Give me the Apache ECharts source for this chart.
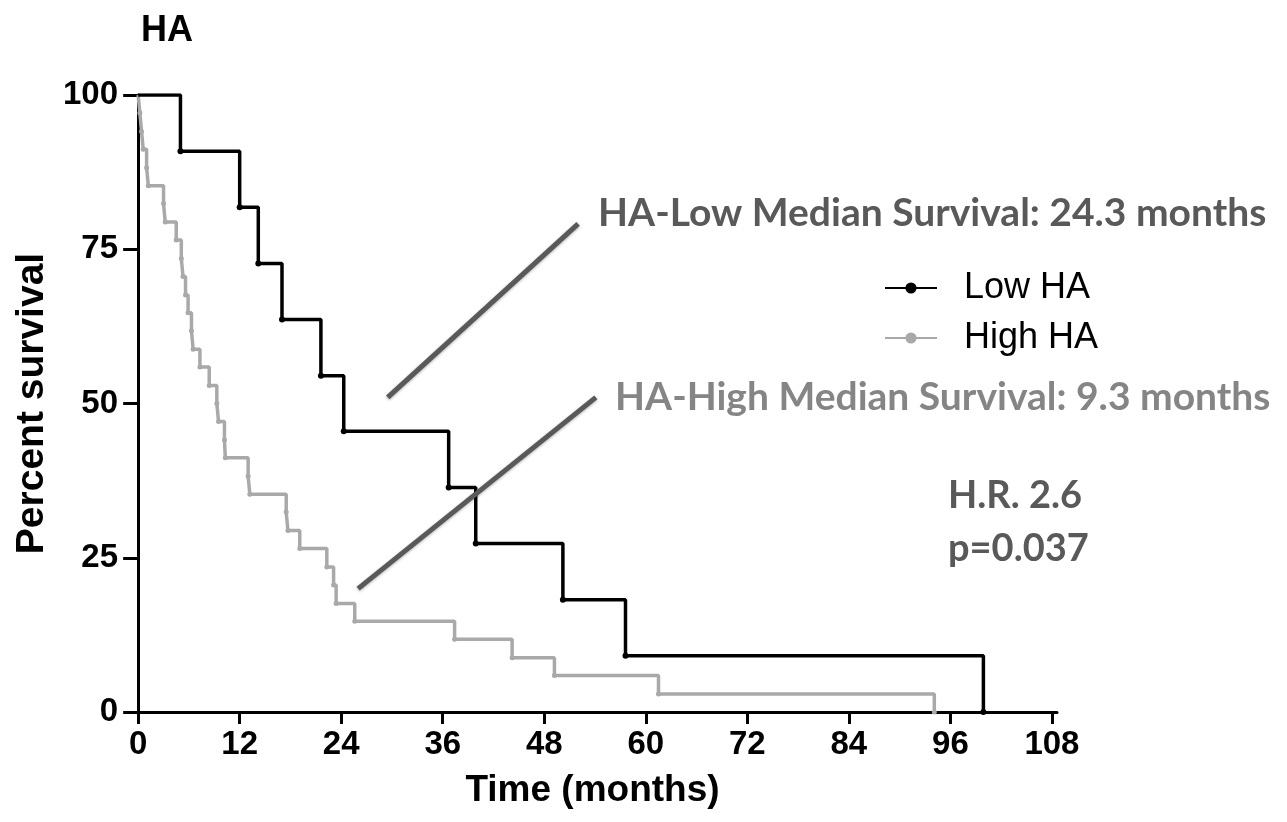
<!DOCTYPE html>
<html>
<head>
<meta charset="utf-8">
<script src="https://cdn.jsdelivr.net/npm/echarts@6/dist/echarts.min.js"></script>
<style>
html,body{margin:0;padding:0;background:#fff;}
#chart{width:1287px;height:822px;}
</style>
</head>
<body>
<div id="chart"></div>
<script>
// ---- data ----
const xTicks = [0, 12, 24, 36, 48, 60, 72, 84, 96, 108];
const yTicks = [0, 25, 50, 75, 100];
const lowTimes = [0, 5.0, 12.0, 14.2, 17.0, 21.6, 24.3, 36.7, 39.9, 50.2, 57.6, 99.9];
const lowSurv  = [100, 90.9, 81.8, 72.7, 63.6, 54.5, 45.5, 36.4, 27.3, 18.2, 9.1, 0];
const highTimes = [0, 0.2, 0.4, 0.6, 1.0, 1.2, 3.0, 3.2, 4.5, 5.1, 5.3, 5.6, 5.9, 6.3, 6.5, 7.3, 8.4, 9.3, 9.5, 10.2, 10.3, 13.0, 13.2, 17.5, 17.7, 19.1, 22.3, 23.1, 23.4, 25.6, 37.4, 44.2, 49.2, 61.5, 94.1];
const highSurv  = [100, 97.1, 94.1, 91.2, 88.2, 85.3, 82.4, 79.4, 76.5, 73.5, 70.6, 67.6, 64.7, 61.8, 58.8, 55.9, 52.9, 50.0, 47.1, 44.1, 41.2, 38.2, 35.3, 32.4, 29.4, 26.5, 23.5, 20.6, 17.6, 14.7, 11.8, 8.8, 5.9, 2.9, 0];
const seriesNames = ['Low HA', 'High HA'];
const lowMedianText = 'HA-Low Median Survival: 24.3 months';
const highMedianText = 'HA-High Median Survival: 9.3 months';
const hrText = 'H.R. 2.6';
const pText = 'p=0.037';

// ---- chart ----
function toData(ts, ss) {
  return ts.map((t, i) => i === 0 ? { value: [t, ss[i]], symbolSize: 0 } : [t, ss[i]]);
}
const pointerLines = [
  [[29.5, 51.0], [52.0, 79.1]],
  [[26.0, 20.0], [54.1, 51.0]]
];
const chart = echarts.init(document.getElementById('chart'));
const axisFont = '"Liberation Sans", Arial, sans-serif';
const noteFont = 'Lato, "Open Sans", sans-serif';
chart.setOption({
  animation: false,
  grid: { left: 128, right: 230, top: 95, bottom: 110, containLabel: false, outerBoundsMode: 'none' },
  xAxis: {
    type: 'value', min: -1.2, max: 108.6,
    name: 'Time (months)', nameLocation: 'middle', nameGap: 60,
    nameTextStyle: { fontFamily: axisFont, fontWeight: 'bold', fontSize: 37, color: '#000' },
    axisLine: { lineStyle: { color: '#000', width: 3 } },
    axisTick: { show: true, length: 12, customValues: xTicks, lineStyle: { color: '#000', width: 3 } },
    axisLabel: { fontFamily: axisFont, fontWeight: 'bold', fontSize: 33, color: '#000', margin: 16,
      customValues: xTicks, showMinLabel: true, showMaxLabel: true },
    splitLine: { show: false }
  },
  yAxis: {
    type: 'value', min: 0, max: 100, interval: 25,
    name: 'Percent survival', nameLocation: 'middle', nameGap: 76, nameRotate: 90,
    nameTextStyle: { fontFamily: axisFont, fontWeight: 'bold', fontSize: 39, color: '#000' },
    axisLine: { show: true, onZero: true, lineStyle: { color: '#000', width: 3 } },
    axisTick: { show: true, length: 15, lineStyle: { color: '#000', width: 3 } },
    axisLabel: { fontFamily: axisFont, fontWeight: 'bold', fontSize: 33, color: '#000', margin: 10,
      formatter: v => yTicks.includes(v) ? String(v) : '' },
    splitLine: { show: false }
  },
  title: {
    text: 'HA', left: 136, top: 8,
    textStyle: { fontFamily: axisFont, fontWeight: 'bold', fontSize: 36, color: '#000' }
  },
  legend: {
    orient: 'vertical', left: 884, top: 270, padding: 0, itemGap: 14, itemWidth: 52, itemHeight: 14,
    textStyle: { fontFamily: axisFont, fontSize: 36, color: '#000', padding: [0, 0, 0, 22] },
    data: seriesNames
  },
  series: [
    {
      name: seriesNames[1], type: 'line', step: 'end',
      data: toData(highTimes, highSurv),
      symbol: 'circle', symbolSize: 5, showSymbol: true,
      itemStyle: { color: '#a9a9a9' },
      lineStyle: { color: '#a9a9a9', width: 3.5 },
      z: 2
    },
    {
      name: seriesNames[0], type: 'line', step: 'end',
      data: toData(lowTimes, lowSurv),
      symbol: 'circle', symbolSize: 6, showSymbol: true,
      itemStyle: { color: '#000' },
      lineStyle: { color: '#000', width: 3.5 },
      z: 3,
      markLine: {
        silent: true, symbol: ['none', 'none'], animation: false,
        label: { show: false },
        lineStyle: { type: 'solid', color: '#595959', width: 5, shadowColor: 'rgba(0,0,0,0.3)', shadowBlur: 3, shadowOffsetY: 1 },
        data: pointerLines.map(p => [{ coord: p[0] }, { coord: p[1] }])
      }
    }
  ],
  graphic: [
    { type: 'text', left: 598, top: 194, style: { text: lowMedianText, fontFamily: noteFont, fontWeight: 'bold', fontSize: 39, fill: '#595959' } },
    { type: 'text', left: 615, top: 378, style: { text: highMedianText, fontFamily: noteFont, fontWeight: 'bold', fontSize: 39, fill: '#858585' } },
    { type: 'text', left: 948, top: 477, style: { text: hrText, fontFamily: noteFont, fontWeight: 'bold', fontSize: 38, fill: '#595959' } },
    { type: 'text', left: 948, top: 530, style: { text: pText, fontFamily: noteFont, fontWeight: 'bold', fontSize: 38, fill: '#595959' } }
  ]
});
</script>
</body>
</html>
